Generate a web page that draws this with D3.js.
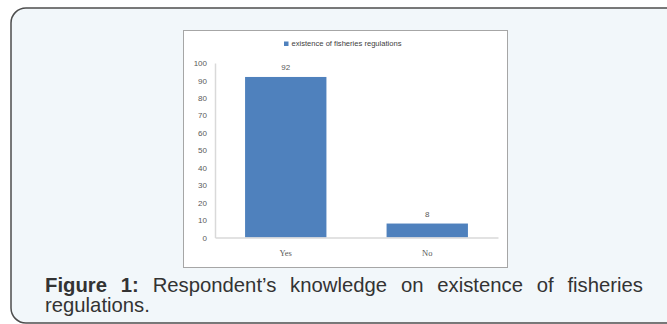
<!DOCTYPE html>
<html>
<head>
<meta charset="utf-8">
<script src="https://cdnjs.cloudflare.com/ajax/libs/d3/7.8.5/d3.min.js"></script>
<style>
  body { margin: 0; background: #fff; }
  #wrap { position: relative; width: 667px; height: 324px; overflow: hidden; }
  #wrap svg { position: absolute; left: 0; top: 0; }
  .caption {
    position: absolute; left: 45px; top: 276px; width: 598px;
    font: 20.3px "Liberation Sans", Arial, sans-serif; line-height: 19.5px;
    color: #333; text-align: justify;
  }
  .caption b { font-weight: bold; }
  .num { font-family: "Liberation Sans", Arial, sans-serif; font-size: 8px; }
  .xlab { font-family: "Liberation Serif", "Times New Roman", serif; font-size: 8.5px; }
</style>
</head>
<body>
<div id="wrap"></div>
<script>
  // data
  var categories = ["Yes", "No"];
  var values = [92, 8];
  var yTicks = [0, 10, 20, 30, 40, 50, 60, 70, 80, 90, 100];
  var seriesName = "existence of fisheries regulations";

  var svg = d3.select("#wrap").append("svg")
      .attr("width", 667)
      .attr("height", 324);

  // outer rounded panel
  svg.append("rect")
      .attr("x", 11).attr("y", 8)
      .attr("width", 700).attr("height", 315)
      .attr("rx", 15).attr("ry", 15)
      .attr("fill", "#f2f7fa")
      .attr("stroke", "#4d4d4d")
      .attr("stroke-width", 1.5);

  // chart frame
  svg.append("rect")
      .attr("x", 183.5).attr("y", 30.5)
      .attr("width", 324).attr("height", 237)
      .attr("fill", "#fff")
      .attr("stroke", "#a6a6a6")
      .attr("stroke-width", 1);

  // legend
  var legend = svg.append("g").attr("transform", "translate(284,41.5)");
  legend.append("rect")
      .attr("width", 4.5).attr("height", 4.5)
      .attr("fill", "#4f81bd");
  legend.append("text")
      .attr("x", 7.5).attr("y", 4.6)
      .attr("textLength", 110)
      .attr("lengthAdjust", "spacingAndGlyphs")
      .style("font", "8px 'Liberation Sans Narrow', 'Liberation Sans', Arial, sans-serif")
      .style("fill", "#404040")
      .text(seriesName);

  // scales
  var x = d3.scaleBand()
      .domain(categories)
      .range([215, 498])
      .paddingInner(0.425)
      .paddingOuter(0.2125);

  var y = d3.scaleLinear()
      .domain([0, 100])
      .range([237.5, 63]);

  // y axis
  var yAxis = svg.append("g")
      .attr("transform", "translate(215,0)")
      .call(d3.axisLeft(y).tickValues(yTicks).tickSize(0).tickPadding(8));
  yAxis.select(".domain").attr("stroke", "#d9d9d9").attr("stroke-width", 1.5);
  yAxis.selectAll(".tick text")
      .attr("class", "num")
      .attr("font-size", null).attr("font-family", null)
      .attr("fill", "#595959");

  // bars
  svg.selectAll(".bar")
      .data(values)
      .enter().append("rect")
      .attr("class", "bar")
      .attr("x", function(d, i) { return x(categories[i]); })
      .attr("width", x.bandwidth())
      .attr("y", function(d) { return y(d); })
      .attr("height", function(d) { return y(0) - y(d); })
      .attr("fill", "#4f81bd");

  // x axis
  var xAxis = svg.append("g")
      .attr("transform", "translate(0," + y(0) + ")")
      .call(d3.axisBottom(x).tickSize(0).tickPadding(12));
  xAxis.select(".domain").attr("stroke", "#d9d9d9").attr("stroke-width", 1.5);
  xAxis.selectAll(".tick text")
      .attr("class", "xlab")
      .attr("font-size", null).attr("font-family", null)
      .attr("fill", "#595959");

  // value labels
  svg.selectAll(".val")
      .data(values)
      .enter().append("text")
      .attr("class", "num")
      .attr("x", function(d, i) { return x(categories[i]) + x.bandwidth() / 2; })
      .attr("y", function(d) { return y(d) - 7; })
      .attr("text-anchor", "middle")
      .attr("fill", "#595959")
      .text(function(d) { return d; });

  // caption
  d3.select("#wrap").append("div")
      .attr("class", "caption")
      .html("<b>Figure 1:</b> Respondent’s knowledge on existence of fisheries regulations.");
</script>
</body>
</html>
